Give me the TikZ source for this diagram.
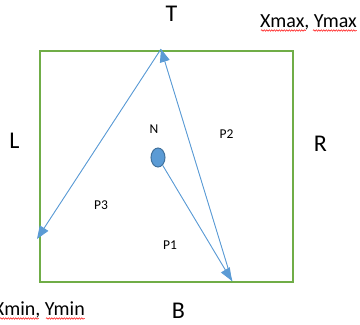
\documentclass[tikz,border=0pt]{standalone}
\usepackage{fontspec}
\setmainfont{Carlito}
\usetikzlibrary{arrows.meta,decorations.pathmorphing,shapes.geometric}
\definecolor{boxgreen}{HTML}{70AD47}
\definecolor{lineblue}{HTML}{5B9BD5}
\definecolor{dotedge}{HTML}{41719C}
\begin{document}
\begin{tikzpicture}[x=1pt,y=-1pt,
  bigl/.style={font=\fontsize{24}{28}\selectfont, anchor=base, inner sep=0pt},
  corner/.style={font=\fontsize{20}{24}\selectfont, inner sep=0pt},
  small/.style={font=\fontsize{13.5}{16}\selectfont, anchor=base, inner sep=0pt},
  conn/.style={draw=lineblue, line width=0.9pt, -{Triangle[length=13pt,width=10pt]}, fill=lineblue},
  squig/.style={draw=red, line width=0.5pt, decorate, decoration={snake, amplitude=0.7pt, segment length=2.5pt}}]
\useasboundingbox (0,0) rectangle (360,325);
\node[draw=boxgreen, line width=1.8pt, minimum width=253pt, minimum height=231pt, inner sep=0pt, anchor=north west] (box) at (39,50) {};
% side labels
\node[bigl] (T) at (171.5,21) {T};
\node[bigl] (L) at (14.5,148) {L};
\node[bigl] (R) at (320.5,151) {R};
\node[bigl] (B) at (178.5,318) {B};
% corner labels
\node[corner, anchor=base east] (max) at (357,27) {Xmax, Ymax};
\node[corner, anchor=base east] (min) at (85,315) {Xmin, Ymin};
\draw[squig] (261,30.5) -- (306,30.5);
\draw[squig] (313,30.5) -- (357,30.5);
\draw[squig] (0,318.5) -- (39,318.5);
\draw[squig] (46,318.5) -- (85,318.5);
% region labels
\node[small] (Nl) at (154,133) {N};
\node[small] (P2) at (226.5,138) {P2};
\node[small] (P3) at (101,209) {P3};
\node[small] (P1) at (170,249) {P1};
% node N
\node[ellipse, draw=dotedge, fill=lineblue, line width=1pt, minimum width=14pt, minimum height=19pt, inner sep=0pt] (n) at (158,157.5) {};
% points
\coordinate (tT) at (161,49);
\coordinate (tL) at (37,239);
\coordinate (tB) at (232,281);
\draw[conn] (n) -- (tB);
\draw[conn] (tB) -- (tT);
\draw[conn] (tT) -- (tL);
\end{tikzpicture}
\end{document}
